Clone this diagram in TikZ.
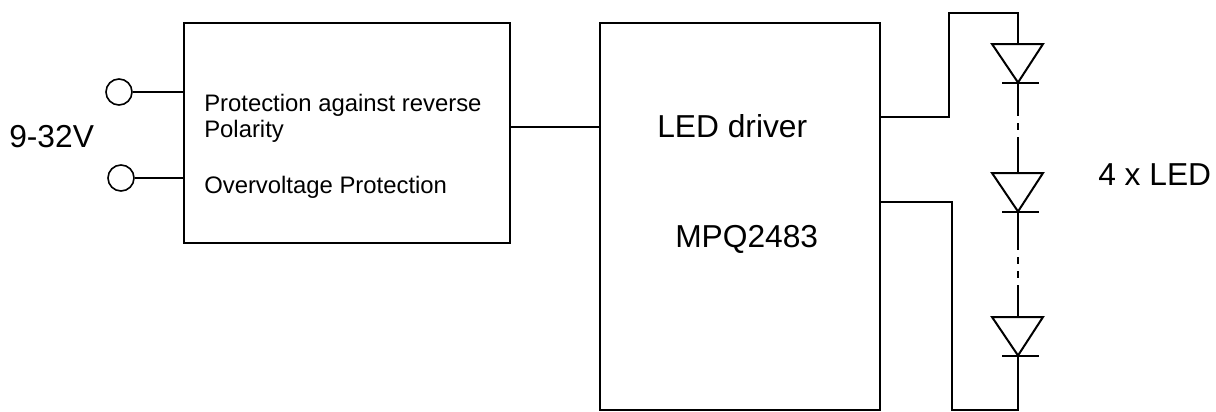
\documentclass[tikz,border=0pt]{standalone}
\usepackage{fontspec}
\setmainfont{Liberation Sans}
\usetikzlibrary{positioning}
\tikzset{
  wire/.style={line width=1.5pt},
  blockbox/.style={draw, line width=1.5pt, inner sep=0pt},
  terminal/.style={circle, draw, line width=1.2pt, minimum size=19.5pt, inner sep=0pt},
  smalltext/.style={font=\fontsize{17.9}{17.9}\selectfont, inner sep=0pt, anchor=base west},
  bigtext/.style={font=\fontsize{23.8}{23.8}\selectfont, inner sep=0pt, anchor=base west}
}
\begin{document}
\begin{tikzpicture}[x=0.75pt, y=-0.75pt]
  \useasboundingbox (0,0) rectangle (1216,411);

  % blocchi
  \node[blockbox, minimum width=244.5pt, minimum height=165pt] (protect) at (347,133) {};
  \node[blockbox, minimum width=210pt, minimum height=290.25pt] (driver) at (740,216.5) {};

  % morsetti
  \node[terminal] (plus) at (119,92) {};
  \node[terminal] (minus) at (121,178) {};
  \draw[wire] (plus) -- (plus -| protect.west);
  \draw[wire] (minus) -- (minus -| protect.west);
  \draw[wire] (protect.east |- 0,127) -- (driver.west |- 0,127);

  % diodi
  \foreach \n/\y in {a/44, b/173, c/317} {
    \coordinate (top\n) at (1018,\y);
    \coordinate (cat\n) at (1018,\y+38.5);
    \draw[wire, line join=miter] (992,\y) -- (1043,\y) -- (cat\n) -- cycle;
    \draw[wire] (1002,\y+38.5) -- (1039,\y+38.5);
  }

  % catena dei led
  \coordinate (outa) at (880,117);
  \coordinate (outb) at (880,202);
  \coordinate (start) at (1018,13);
  \coordinate (stop) at (1018,410);
  \draw[wire] (outa) -- (949,117) -- (949,13) -- (start) -- (topa);
  \draw[wire] (outb) -- (952,202) -- (952,410) -- (stop) -- (catc);
  \foreach \p/\q/\ya/\yb in {cata/topb/116/137, catb/topc/250/285} {
    \draw[wire] (\p) -- (1018,\ya);
    \draw[wire, dash pattern=on 5.25pt off 5.25pt, dash phase=5.25pt] (1018,\ya) -- (1018,\yb);
    \draw[wire] (1018,\yb) -- (\q);
  }

  % testi
  \node[smalltext] (ptext) at (204,111) {Protection against reverse};
  \node[smalltext] (ptextb) at (204,137) {Polarity};
  \node[smalltext] (otext) at (204,193) {Overvoltage Protection};
  \node[bigtext] (volt) at (9,147) {9-32V};
  \node[bigtext] (ledname) at (657,137) {LED driver};
  \node[bigtext] (chip) at (675,247) {MPQ2483};
  \node[bigtext] (ledcount) at (1098,185) {4 x LED};
\end{tikzpicture}
\end{document}
